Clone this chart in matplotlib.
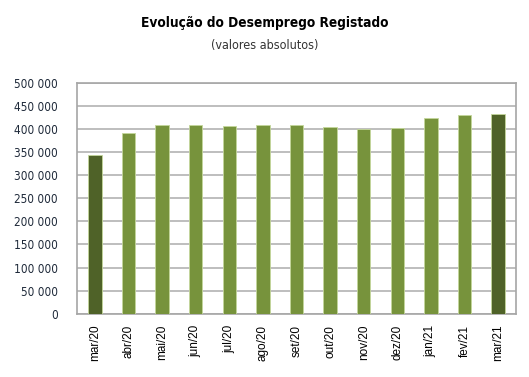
import matplotlib.pyplot as plt
import matplotlib.ticker as mticker

months = ['mar/20', 'abr/20', 'mai/20', 'jun/20', 'jul/20', 'ago/20', 'set/20',
          'out/20', 'nov/20', 'dez/20', 'jan/21', 'fev/21', 'mar/21']
desemprego = [343800, 392300, 409500, 408000, 407500, 409900, 409500,
              404000, 399300, 401500, 425000, 431300, 432900]

dark = '#4f6228'
light = '#77933c'
colors = [dark] + [light] * 11 + [dark]

fig = plt.figure(figsize=(5.29, 3.77), dpi=100)
ax = fig.add_axes([0.146, 0.168, 0.829, 0.612])

x = range(len(months))
ax.bar(x, desemprego, width=0.4, color=colors, edgecolor='#c4d79b', linewidth=0.6, zorder=3)

ax.set_ylim(0, 500000)
ax.set_xlim(-0.53, len(months) - 0.47)
ax.yaxis.set_major_locator(mticker.MultipleLocator(50000))
ax.yaxis.set_major_formatter(mticker.FuncFormatter(lambda v, p: f"{int(v):,}".replace(',', ' ')))
ax.grid(axis='y', color='#b3b3b3', linewidth=1.2, zorder=0)

ax.set_xticks(list(x))
ax.set_xticklabels(months, rotation=90, fontsize=8.5, family='Liberation Sans')
for lbl in ax.get_yticklabels():
    lbl.set_fontsize(8.5)
    lbl.set_fontstretch('condensed')
    lbl.set_color('#1f2a3a')
ax.tick_params(axis='y', length=0, pad=14)
ax.tick_params(axis='x', length=0, pad=8)

for s in ax.spines.values():
    s.set_color('#a6a6a6')
    s.set_linewidth(1.2)

fig.text(0.5, 0.94, 'Evolução do Desemprego Registado', ha='center', va='center',
         fontsize=9.8, fontweight='bold', fontstretch='condensed', family='DejaVu Sans')
fig.text(0.5, 0.88, '(valores absolutos)', ha='center', va='center',
         fontsize=9, color='#333333', fontstretch='condensed', family='DejaVu Sans')

fig.savefig('out.png', dpi=100)
